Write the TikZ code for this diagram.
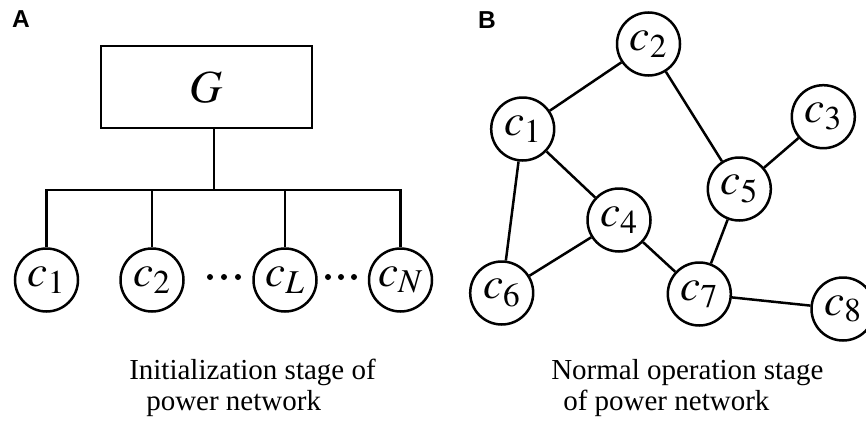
\documentclass[tikz,border=0pt]{standalone}
\usepackage{mathptmx}
\usepackage{fontspec}
\setmainfont{Liberation Serif}
\setsansfont{Liberation Sans}
\begin{document}
\begin{tikzpicture}[x=1pt,y=-1pt,line width=2.5pt,
  every node/.style={inner sep=0pt},
  cnode/.style={circle,draw,minimum size=63pt,font=\fontsize{45}{48}\selectfont},
  gbox/.style={draw,minimum width=211pt,minimum height=82pt,font=\fontsize{46}{50}\selectfont},
  captext/.style={anchor=base west,font=\fontsize{29}{32}\selectfont},
  panel/.style={scale=2.45,font=\sffamily\bfseries}]
  \useasboundingbox (0,0) rectangle (866,423);

  % panel A: initialization stage
  \node[panel] (A) at (21,19.5) {A};
  \node[gbox] (G) at (206.5,87) {$G$};
  \coordinate (top) at (214,190);

  \node[cnode] (a1) at (46.5,280) {$c_1$};
  \node[cnode] (a2) at (152,280) {$c_2$};
  \node[cnode] (aL) at (285,280) {$c_L$};
  \node[cnode] (aN) at (400.5,280) {$c_N$};

  \draw (G.south -| top) -- (top);
  \draw (a1.north) |- (top) -| (aN.north);
  \draw (a2.north) -- (a2.north |- top);
  \draw (aL.north) -- (aL.north |- top);

  % dots between the nodes
  \foreach \x in {210,224,238,328,341,354}
    \fill (\x,277) circle (3pt);

  \node[captext] (capA1) at (128,379) {Initialization stage of};
  \node[captext] (capA2) at (145,410) {power network};

  % panel B: normal operation stage
  \node[panel] (B) at (487,20) {B};
  \node[cnode] (b1) at (522.7,129) {$c_1$};
  \node[cnode] (b2) at (648.5,44) {$c_2$};
  \node[cnode] (b3) at (823.3,116.7) {$c_3$};
  \node[cnode] (b4) at (619,220) {$c_4$};
  \node[cnode] (b5) at (739.3,189) {$c_5$};
  \node[cnode] (b6) at (501.7,293) {$c_6$};
  \node[cnode] (b7) at (699.3,294) {$c_7$};
  \node[cnode] (b8) at (843,309) {$c_8$};

  \draw (b1) -- (b2);
  \draw (b2) -- (b5);
  \draw (b1) -- (b4);
  \draw (b1) -- (b6);
  \draw (b4) -- (b6);
  \draw (b4) -- (b7);
  \draw (b5) -- (b3);
  \draw (b5) -- (b7);
  \draw (b7) -- (b8);

  \node[captext] (capB1) at (550,379) {Normal operation stage};
  \node[captext] (capB2) at (562,410) {of power network};

\end{tikzpicture}
\end{document}
